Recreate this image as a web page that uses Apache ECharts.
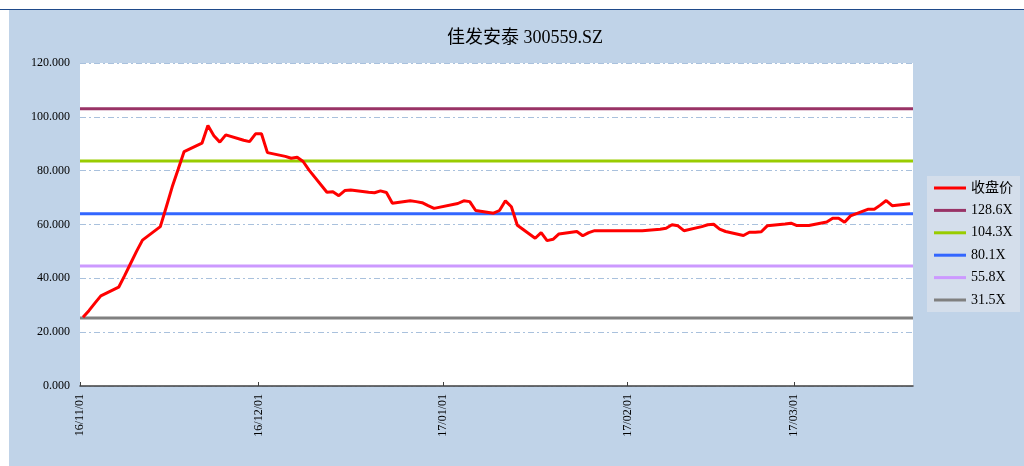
<!DOCTYPE html>
<html><head><meta charset="utf-8">
<script src="https://cdn.jsdelivr.net/npm/echarts@6/dist/echarts.min.js"></script>
<style>
html,body{margin:0;padding:0;background:#fff;overflow:hidden;}
#bg{position:absolute;left:9px;top:10px;width:1015px;height:456px;background:#C0D3E8;}
#topline{position:absolute;left:0;top:9px;width:1024px;height:1px;background:#1F4A8A;}
#chart{position:absolute;left:0;top:0;width:1024px;height:466px;}
</style></head><body>
<div id="bg"></div><div id="topline"></div><div id="chart"></div>
<script>
const titleText = '佳发安泰 300559.SZ';
const dates = [
 '2016-11-01','2016-11-02','2016-11-03','2016-11-04','2016-11-07','2016-11-08','2016-11-09','2016-11-10','2016-11-11',
 '2016-11-14','2016-11-15','2016-11-16','2016-11-17','2016-11-18','2016-11-21','2016-11-22','2016-11-23','2016-11-24','2016-11-25',
 '2016-11-28','2016-11-29','2016-11-30','2016-12-01','2016-12-02','2016-12-05','2016-12-06','2016-12-07','2016-12-08','2016-12-09',
 '2016-12-12','2016-12-13','2016-12-14','2016-12-15','2016-12-16','2016-12-19','2016-12-20','2016-12-21','2016-12-22','2016-12-23',
 '2016-12-26','2016-12-27','2016-12-28','2016-12-29','2016-12-30','2017-01-03','2017-01-04','2017-01-05','2017-01-06',
 '2017-01-09','2017-01-10','2017-01-11','2017-01-12','2017-01-13','2017-01-16','2017-01-17','2017-01-18','2017-01-19','2017-01-20',
 '2017-01-23','2017-01-24','2017-01-25','2017-01-26','2017-02-03','2017-02-06','2017-02-07','2017-02-08','2017-02-09','2017-02-10',
 '2017-02-13','2017-02-14','2017-02-15','2017-02-16','2017-02-17','2017-02-20','2017-02-21','2017-02-22','2017-02-23','2017-02-24',
 '2017-02-27','2017-02-28','2017-03-01','2017-03-02','2017-03-03','2017-03-06','2017-03-07','2017-03-08','2017-03-09','2017-03-10',
 '2017-03-13','2017-03-14','2017-03-15','2017-03-16','2017-03-17','2017-03-20'
];
const closePrices = [
 25.5,28.0,30.8,33.5,36.7,41.0,45.5,50.0,54.2,
 59.2,66.5,74.0,80.5,87.1,90.2,96.8,93.0,90.6,93.3,
 91.3,90.8,93.7,93.7,86.7,85.3,84.6,85.0,83.4,80.2,
 72.0,72.2,70.7,72.6,72.8,72.0,71.8,72.5,71.9,67.9,
 68.8,68.5,68.1,67.0,66.0,67.8,68.8,68.5,65.2,
 64.2,65.2,68.8,66.6,59.7,54.9,57.0,54.0,54.5,56.5,
 57.4,55.8,57.0,57.7,57.7,58.2,58.6,59.9,59.5,57.7,
 59.2,59.9,60.1,58.3,57.4,55.9,57.1,57.1,57.3,59.5,
 60.2,60.5,59.6,59.6,59.6,60.9,62.3,62.3,60.8,63.2,
 65.7,65.7,67.2,68.9,67.0,67.7
];
const closeName = '收盘价';
const bandNames = ['128.6X','104.3X','80.1X','55.8X','31.5X'];
const bandValues = [103.0, 83.6, 64.0, 44.6, 25.3];
const bandColors = ['#993366','#99CC00','#3366FF','#CC99FF','#808080'];
const monthTicks = ['2016-11-01','2016-12-01','2017-01-01','2017-02-01','2017-03-01'];
const axisStart = '2016-11-01';
const axisEnd = '2017-03-21';
const yMin = 0, yMax = 120, yStep = 20;

function ts(s){ const p = s.split('-').map(Number); return new Date(p[0], p[1]-1, p[2]).getTime(); }
const HALF_DAY = 12*3600*1000;
const xMin = ts(axisStart), xMax = ts(axisEnd);
const tickTs = monthTicks.map(ts);
function fmt(v){
  const d = new Date(v);
  const p = n => (n<10?'0':'')+n;
  return String(d.getFullYear()).slice(2)+'/'+p(d.getMonth()+1)+'/'+p(d.getDate());
}
const serif = "'Liberation Serif','Noto Sans CJK SC',serif";

const series = [];
bandNames.forEach((n,i)=>{
  series.push({
    name:n, type:'line', symbol:'none', silent:true, z:2,
    data:[[xMin, bandValues[i]],[xMax, bandValues[i]]],
    lineStyle:{color:bandColors[i], width:3}, itemStyle:{color:bandColors[i]}
  });
});
series.push({
  name:closeName, type:'line', symbol:'none', z:3,
  data: dates.map((d,i)=>[ts(d)+HALF_DAY, closePrices[i]]),
  lineStyle:{color:'#FF0000', width:3}, itemStyle:{color:'#FF0000'}
});

const chart = echarts.init(document.getElementById('chart'), null, {renderer:'canvas'});
chart.setOption({
  animation:false,
  backgroundColor:'transparent',
  title:{text:titleText, left:520, top:24, textAlign:'center',
    textStyle:{fontFamily:serif, fontSize:18, fontWeight:'normal', color:'#000'}},
  legend:{
    orient:'vertical', left:927, top:176, padding:[5,7,5,7],
    backgroundColor:'#D4DEEB',
    data:[closeName].concat(bandNames),
    icon:'rect', itemWidth:32, itemHeight:3, itemGap:8.4,
    textStyle:{fontFamily:serif, fontSize:14, lineHeight:14, color:'#000'}
  },
  grid:{left:80, right:111, top:63, bottom:80, show:true, backgroundColor:'#fff', borderWidth:0},
  xAxis:{
    type:'value', min:xMin, max:xMax, scale:true,
    axisLine:{show:true, lineStyle:{color:'#404040', width:1.5}},
    axisTick:{show:true, inside:true, length:4, customValues:tickTs, lineStyle:{color:'#404040'}},
    axisLabel:{customValues:tickTs, formatter:fmt, rotate:90, margin:8,
      fontFamily:serif, fontSize:12, color:'#000', hideOverlap:false},
    splitLine:{show:false}
  },
  yAxis:{
    type:'value', min:yMin, max:yMax, interval:yStep,
    axisLine:{show:false}, axisTick:{show:false},
    axisLabel:{formatter:v=>v.toFixed(3), margin:10, fontFamily:serif, fontSize:12, color:'#000'},
    splitLine:{show:true, lineStyle:{color:'#A9C1DD', width:1, type:[6,3,2,3]}}
  },
  series:series
});
</script>
</body></html>
